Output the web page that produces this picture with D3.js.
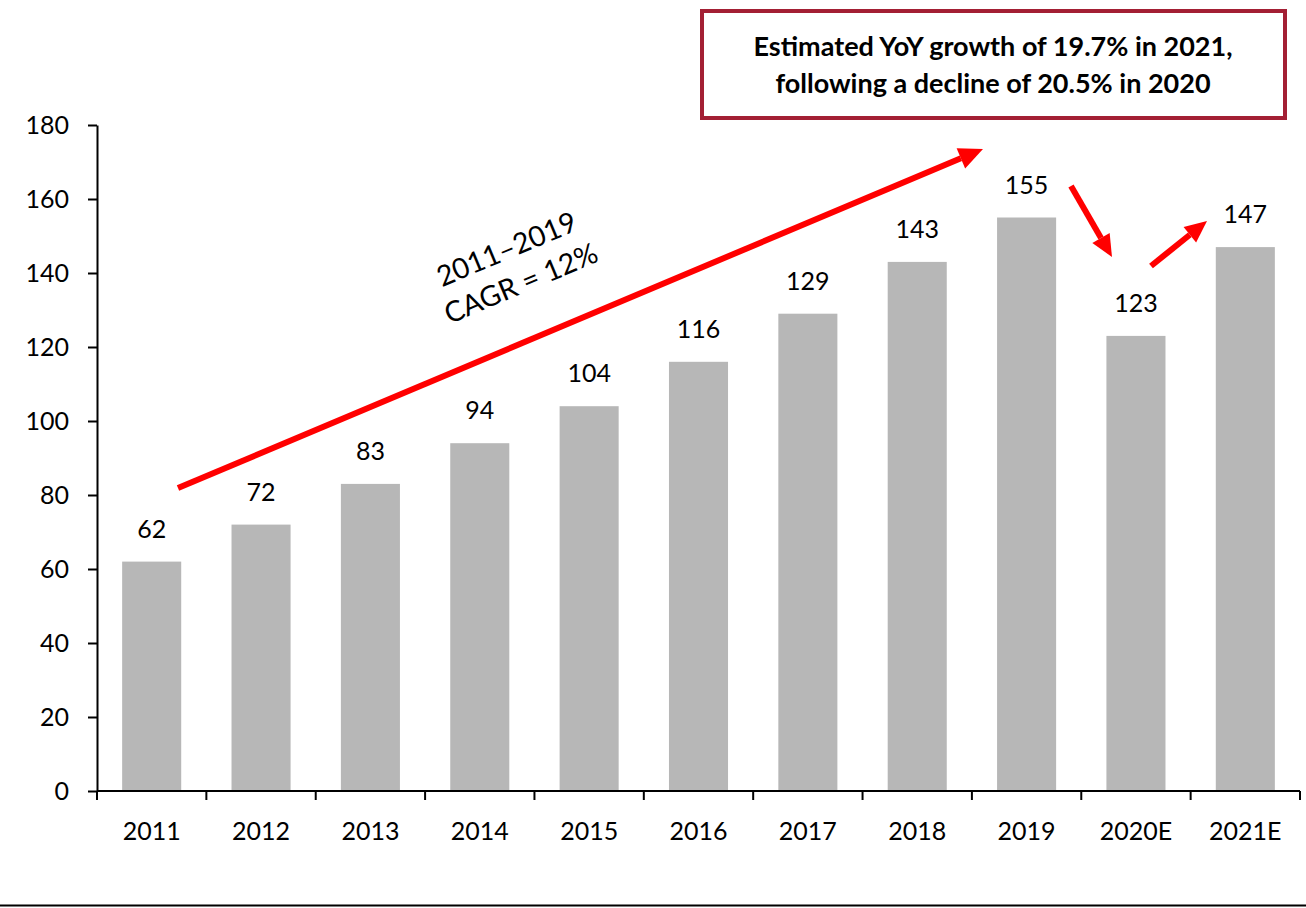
<!DOCTYPE html>
<html><head><meta charset="utf-8">
<script src="https://cdn.jsdelivr.net/npm/d3@7"></script>
<style>body{margin:0;background:#fff}svg{display:block}text{font-family:Lato,"Open Sans",sans-serif}</style>
</head><body><svg id="c" width="1306" height="908"></svg>
<script>
const categories = ["2011","2012","2013","2014","2015","2016","2017","2018","2019","2020E","2021E"];
const values = [62,72,83,94,104,116,129,143,155,123,147];
const yTicks = [0,20,40,60,80,100,120,140,160,180];
const titleLines = ["Estimated YoY growth of 19.7% in 2021,","following a decline of 20.5% in 2020"];
const cagrLines = ["2011\u20132019","CAGR = 12%"];

(function(){
const svg = d3.select("#c");
const pL = 97, pR = 1300, pT = 125, pB = 791;
const x = d3.scaleBand().domain(categories).range([pL, pR]).paddingInner(0.46).paddingOuter(0.23);
const y = d3.scaleLinear().domain([0,180]).range([pB, pT]);

// bars
svg.append("g").selectAll("rect").data(values).join("rect")
  .attr("x",(d,i)=>x(categories[i])).attr("width",x.bandwidth())
  .attr("y",d=>y(d)).attr("height",d=>y(0)-y(d)).attr("fill","#b7b7b7");

// value labels
svg.append("g").selectAll("text").data(values).join("text")
  .attr("x",(d,i)=>x(categories[i])+x.bandwidth()/2).attr("y",d=>y(d)-24)
  .attr("text-anchor","middle").attr("font-size",25).attr("fill","#000").text(d=>d);

// y axis
const ya = svg.append("g").attr("transform",`translate(${pL},0)`)
  .call(d3.axisLeft(y).tickValues(yTicks).tickSize(9).tickSizeOuter(0).tickPadding(19));
ya.selectAll("path,line").attr("stroke","#000").attr("stroke-width",2);
ya.selectAll("text").attr("font-size",25).attr("fill","#000").style("font-family","Lato");

// x axis
const step = x.step();
const xa = svg.append("g");
xa.append("line").attr("x1",pL).attr("x2",pR).attr("y1",pB).attr("y2",pB).attr("stroke","#000").attr("stroke-width",2);
xa.selectAll("line.t").data(d3.range(categories.length+1)).join("line").attr("class","t")
  .attr("x1",i=>pL+i*step).attr("x2",i=>pL+i*step).attr("y1",pB).attr("y2",pB+9)
  .attr("stroke","#000").attr("stroke-width",2);
xa.selectAll("text").data(categories).join("text")
  .attr("x",d=>x(d)+x.bandwidth()/2).attr("y",840).attr("text-anchor","middle")
  .attr("font-size",25).attr("fill","#000").text(d=>d);

// bottom rule
svg.append("line").attr("x1",0).attr("x2",1306).attr("y1",905.5).attr("y2",905.5).attr("stroke","#000").attr("stroke-width",2);

// arrows
function arrow(x1,y1,x2,y2,w,hl,hw){
  const a = Math.atan2(y2-y1,x2-x1);
  const bx = x2 - hl*Math.cos(a), by = y2 - hl*Math.sin(a);
  svg.append("line").attr("x1",x1).attr("y1",y1).attr("x2",bx).attr("y2",by)
    .attr("stroke","#ff0000").attr("stroke-width",w);
  const px = -Math.sin(a)*hw/2, py = Math.cos(a)*hw/2;
  svg.append("path").attr("d",`M${x2},${y2}L${bx+px},${by+py}L${bx-px},${by-py}Z`).attr("fill","#ff0000");
}
arrow(178, 488, 983, 149, 6, 24, 22);
arrow(1071, 186, 1112, 257, 6, 22, 20);
arrow(1151, 266, 1207, 221, 6, 22, 20);

// CAGR text
const ang = Math.atan2(149-488, 983-178)*180/Math.PI;
const ct = svg.append("text").attr("transform",`translate(512,262) rotate(${ang})`)
  .attr("text-anchor","middle").attr("font-size",28.5).attr("fill","#000");
ct.append("tspan").attr("x",0).attr("dy",-4).text(cagrLines[0]);
ct.append("tspan").attr("x",0).attr("dy",37).text(cagrLines[1]);

// title box
svg.append("rect").attr("x",702).attr("y",11).attr("width",583).attr("height",107)
  .attr("fill","#fff").attr("stroke","#a31f34").attr("stroke-width",4);
svg.append("g").selectAll("text").data(titleLines).join("text")
  .attr("x",993).attr("y",(d,i)=>56+i*37).attr("text-anchor","middle")
  .attr("font-size",27).attr("font-weight","bold").attr("fill","#000").text(d=>d);
})();
</script></body></html>
